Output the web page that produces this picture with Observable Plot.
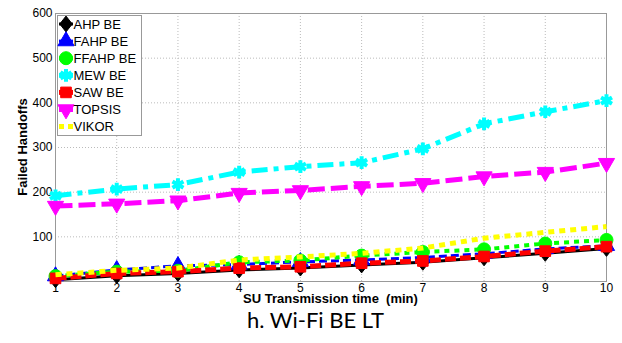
<!DOCTYPE html>
<html><head><meta charset="utf-8">
<script src="https://cdn.jsdelivr.net/npm/d3@7"></script>
<script src="https://cdn.jsdelivr.net/npm/@observablehq/plot@0.6"></script>
<style>
body{margin:0;background:#fff;}
#wrap{position:relative;width:622px;height:343px;overflow:hidden;font-family:"Liberation Sans",Arial,sans-serif;}
#wrap svg{position:absolute;left:0;top:0;}
.lbl{position:absolute;font-weight:bold;font-size:13px;white-space:pre;color:#000;font-family:"Liberation Sans",Arial,sans-serif;}
#xlabel{left:0;width:661px;text-align:center;top:292px;line-height:13px;}
#ylabel{left:22px;top:147px;transform:translate(-50%,-50%) rotate(-90deg);}
#caption{position:absolute;left:247px;top:306px;font-family:Lato,"Open Sans",sans-serif;font-size:22px;white-space:pre;color:#000;}
</style></head>
<body><div id="wrap"></div>
<script>
const minutes = [1,2,3,4,5,6,7,8,9,10];
const yTicks = [100,200,300,400,500,600];
const ahpBE   = [4,13,18,26,30,37,43,53,63,74];
const fahpBE  = [12,26,35,38,44,48,54,62,73,80];
const ffahpBE = [12,22,24,43,47,58,66,72,85,93];
const mewBE   = [192,207,217,245,257,266,297,353,380,405];
const sawBE   = [7,18,22,30,33,41,46,56,68,78];
const topsis  = [169,174,181,198,204,213,220,235,245,265];
const vikor   = [15,25,30,48,55,63,75,97,110,123];
const seriesNames = ["AHP BE","FAHP BE","FFAHP BE","MEW BE","SAW BE","TOPSIS","VIKOR"];
const seriesValues = [ahpBE,fahpBE,ffahpBE,mewBE,sawBE,topsis,vikor];

const diamond = {draw(ctx,size){const r=Math.sqrt(size/2);ctx.moveTo(0,-r*1.15);ctx.lineTo(r*0.9,0);ctx.lineTo(0,r*1.15);ctx.lineTo(-r*0.9,0);ctx.closePath();}};
const triDown = {draw(ctx,size){const y=-Math.sqrt(size/(Math.sqrt(3)*3));const s=Math.sqrt(3);ctx.moveTo(0,-2*y);ctx.lineTo(-s*y,y);ctx.lineTo(s*y,y);ctx.closePath();}};

const styles = [
  {color:"#000000", width:3, dash:null, symbol:diamond, r:5.5, fill:true},
  {color:"#0000ff", width:3, dash:"8,4", symbol:d3.symbolTriangle, r:6, fill:true},
  {color:"#00ff00", width:4, dash:"5,5", symbol:d3.symbolCircle, r:6.5, fill:true},
  {color:"#00ffff", width:5, dash:"16,6,5,6", symbol:d3.symbolAsterisk, r:6, fill:false},
  {color:"#ff0000", width:5, dash:"11,4", symbol:d3.symbolSquare, r:6, fill:true},
  {color:"#ff00ff", width:5, dash:"17,6", symbol:triDown, r:6, fill:true},
  {color:"#ffff00", width:5, dash:"6,5", symbol:null, r:0, fill:true}
];

const marks = [
  Plot.gridX(minutes.slice(1,-1), {stroke:"#bbb", strokeOpacity:1, strokeDasharray:"1,2"}),
  Plot.gridY(yTicks.slice(0,-1), {stroke:"#bbb", strokeOpacity:1, strokeDasharray:"1,2"}),
  Plot.frame({stroke:"#999"}),
  Plot.axisX(minutes, {tickSize:0, tickPadding:2, fontSize:12, label:null}),
  Plot.axisY(yTicks, {tickSize:0, tickPadding:3, fontSize:12, label:null})
];
seriesValues.forEach((vals,i)=>{
  const st = styles[i];
  const rows = minutes.map((m,j)=>({x:m, y:vals[j]}));
  marks.push(Plot.line(rows, {x:"x", y:"y", stroke:st.color, strokeWidth:st.width, strokeDasharray:st.dash, strokeLinecap:"butt", strokeLinejoin:"miter"}));
  if (st.symbol) {
    if (st.fill) marks.push(Plot.dot(rows, {x:"x", y:"y", symbol:st.symbol, r:st.r, fill:st.color, stroke:st.color, strokeWidth:1}));
    else marks.push(Plot.dot(rows, {x:"x", y:"y", symbol:st.symbol, r:st.r, stroke:st.color, strokeWidth:4}));
  }
});

const chart = Plot.plot({
  width:622, height:343,
  marginLeft:55, marginRight:16, marginTop:13, marginBottom:62,
  style:{fontFamily:"'Liberation Sans', Arial, sans-serif", fontSize:"12px", color:"#000", background:"transparent"},
  x:{domain:[1,10], label:null},
  y:{domain:[0,600], label:null},
  marks
});
const wrap = document.getElementById("wrap");
wrap.appendChild(chart);

// legend
const leg = d3.select(wrap).append("svg").attr("width",622).attr("height",343).style("pointer-events","none");
leg.append("rect").attr("x",57.5).attr("y",15.5).attr("width",84).attr("height",120).attr("fill","#fff").attr("stroke","#999");
seriesNames.forEach((name,i)=>{
  const st = styles[i];
  const cy = 24 + i*17.1;
  leg.append("line").attr("x1",59).attr("x2",73).attr("y1",cy).attr("y2",cy)
    .attr("stroke",st.color).attr("stroke-width",st.width).attr("stroke-dasharray", st.symbol ? null : "5,4");
  if (st.symbol) {
    const p = d3.symbol(st.symbol, Math.PI*st.r*st.r)();
    const g = leg.append("path").attr("d",p).attr("transform",`translate(66,${cy})`);
    if (st.fill) g.attr("fill",st.color).attr("stroke",st.color);
    else g.attr("fill","none").attr("stroke",st.color).attr("stroke-width",4);
  }
  leg.append("text").attr("x",73.5).attr("y",cy).attr("dy","0.36em").attr("font-size",13)
    .attr("font-family","'Liberation Sans', Arial, sans-serif").text(name);
});

const xl = document.createElement("div"); xl.className="lbl"; xl.id="xlabel"; xl.textContent="SU Transmission time  (min)"; wrap.appendChild(xl);
const yl = document.createElement("div"); yl.className="lbl"; yl.id="ylabel"; yl.textContent="Failed Handoffs"; wrap.appendChild(yl);
const cap = document.createElement("div"); cap.id="caption"; cap.textContent="h. Wi-Fi BE LT"; wrap.appendChild(cap);
</script></body></html>
